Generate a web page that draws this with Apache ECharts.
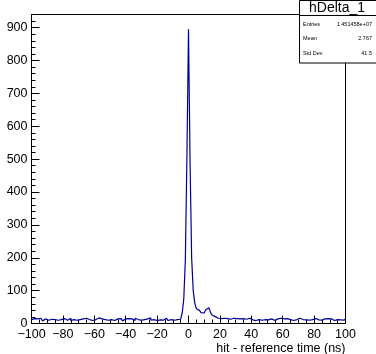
<!DOCTYPE html>
<html>
<head>
<meta charset="utf-8">
<script src="https://cdn.jsdelivr.net/npm/echarts@6/dist/echarts.min.js"></script>
<style>
  html, body { margin: 0; padding: 0; background: #fff; }
  #chart { width: 376px; height: 354px; }
</style>
</head>
<body>
<div id="chart"></div>
<script>
// Histogram hDelta_1: hit - reference time, 1 ns bins from -100 to 100 ns
const binLow = -100;
const binWidth = 1;

// counts for bins -100 .. -6 ns
const countsLeft = [
  12,15,9,14,10,16,12,8,14,11,
  10,15,13,9,12,17,10,14,12,9,
  15,12,10,14,16,9,12,14,10,15,
  12,8,14,11,16,10,12,15,9,14,
  12,10,17,11,14,9,12,15,10,14,
  12,16,9,12,14,10,15,12,8,14,
  11,15,10,14,12,9,16,12,14,10,
  15,12,9,14,11,17,10,12,14,9,
  15,11,14,10,12,16,13,9,12,15,
  10,14,12,15,13
];
// counts for bins -5 .. 25 ns (prompt peak and after-pulse bump)
const countsPeak = [
  16,32,75,195,510,895,490,200,100,62,
  45,40,36,33,32,36,42,48,44,34,
  26,21,19,16,17,15,14,16,13,15,
  14
];
// counts for bins 26 .. 99 ns
const countsRight = [
  13,11,16,10,15,12,14,9,15,12,
  13,10,16,12,11,15,9,14,12,15,
  10,14,12,17,11,10,14,15,9,12,
  14,11,16,10,14,12,15,10,12,14,
  9,15,12,13,16,10,12,14,11,15,
  10,14,12,9,15,13,11,16,10,12,
  14,11,15,10,14,12,9,15,12,14,
  11,16,10,14
];

const xTicks = [-100, -80, -60, -40, -20, 0, 20, 40, 60, 80, 100];
const yTicks = [0, 100, 200, 300, 400, 500, 600, 700, 800, 900];

const statTitle = 'hDelta_1';
const statNames = ['Entries', 'Mean', 'Std Dev'];
const statValues = ['1.451458e+07', '2.767', '41.5'];

const counts = countsLeft.concat(countsPeak, countsRight);
const histData = counts.map((c, i) => [binLow + i * binWidth, c]);
histData.push([binLow + counts.length * binWidth, counts[counts.length - 1]]);

const FONT = '"Liberation Sans", Arial, Helvetica, sans-serif';
const chart = echarts.init(document.getElementById('chart'), null, { renderer: 'canvas' });

const grid = { left: 31.5, right: 30.5, top: 14.5, bottom: 30.5 };
const yMax = 940;

chart.setOption({
  animation: false,
  backgroundColor: '#ffffff',
  grid: Object.assign({
    show: true, borderColor: '#000', borderWidth: 1, backgroundColor: 'transparent',
    containLabel: false, outerBoundsMode: 'none'
  }, grid),
  xAxis: {
    type: 'value', min: xTicks[0], max: xTicks[xTicks.length - 1], interval: 20,
    axisLine: { show: true, onZero: false, lineStyle: { color: '#000', width: 1 } },
    axisTick: { show: true, inside: true, length: 8, lineStyle: { color: '#000' } },
    minorTick: { show: true, splitNumber: 4, length: 4, lineStyle: { color: '#000' } },
    splitLine: { show: false },
    axisLabel: {
      color: '#000', fontFamily: FONT, fontSize: 12.5, margin: 5,
      formatter: v => String(v).replace('-', '\u2212')
    },
    name: 'hit - reference time (ns)',
    nameLocation: 'end', nameGap: 0,
    nameTextStyle: {
      color: '#000', fontFamily: FONT, fontSize: 12.5,
      align: 'right', verticalAlign: 'top', padding: [19, 0, 0, 0]
    }
  },
  yAxis: [
    {
      type: 'value', min: 0, max: yMax, interval: 100, position: 'left',
      axisLine: { show: true, onZero: false, lineStyle: { color: '#000', width: 1 } },
      axisTick: { show: true, inside: true, length: 8, lineStyle: { color: '#000' } },
      splitLine: { show: false },
      axisLabel: {
        color: '#000', fontFamily: FONT, fontSize: 12.5, margin: 4,
        formatter: v => (yTicks.indexOf(v) >= 0 ? String(v) : '')
      }
    },
    {
      type: 'value', min: 0, max: yMax, interval: 20, position: 'left', offset: 0,
      axisLine: { show: false, onZero: false },
      axisTick: { show: true, inside: true, length: 4, lineStyle: { color: '#000' } },
      splitLine: { show: false },
      axisLabel: { show: false }
    }
  ],
  series: [{
    type: 'line',
    yAxisIndex: 0,
    data: histData,
    step: 'end',
    showSymbol: false,
    symbol: 'none',
    clip: true,
    lineStyle: { color: '#000099', width: 1.2 },
    z: 3
  }],
  graphic: [
    {
      type: 'rect', z: 100,
      shape: { x: 299.5, y: 0.5, width: 80, height: 62.5 },
      style: { fill: '#fff', stroke: '#000', lineWidth: 1 }
    },
    {
      type: 'line', z: 101,
      shape: { x1: 299.5, y1: 15.5, x2: 376, y2: 15.5 },
      style: { stroke: '#000', lineWidth: 1 }
    },
    {
      type: 'text', z: 102, x: 337, y: 8.5,
      style: { text: statTitle, font: '14px ' + FONT, fill: '#000', align: 'center', verticalAlign: 'middle' }
    },
    ...statNames.map((n, i) => ({
      type: 'text', z: 102, x: 303, y: 24 + i * 14.5,
      style: { text: n, font: '5.5px ' + FONT, fill: '#000', align: 'left', verticalAlign: 'middle' }
    })),
    ...statValues.map((v, i) => ({
      type: 'text', z: 102, x: 372, y: 24 + i * 14.5,
      style: { text: v, font: '5.5px ' + FONT, fill: '#000', align: 'right', verticalAlign: 'middle' }
    }))
  ]
});
</script>
</body>
</html>
